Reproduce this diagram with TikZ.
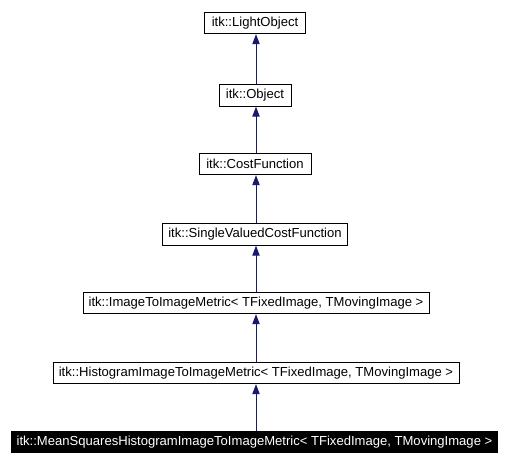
\documentclass[tikz,border=0pt]{standalone}
\usepackage{fontspec}
\setmainfont{Liberation Sans}
\usetikzlibrary{arrows.meta}
\definecolor{edgeblue}{HTML}{191970}
\begin{document}
\begin{tikzpicture}[x=0.75pt,y=-0.75pt,
  cls/.style={draw=black,line width=0.75pt,fill=white,inner sep=0pt,minimum height=16pt,font=\fontsize{9.8}{11}\selectfont},
  cur/.style={cls,fill=black,text=white},
  inh/.style={draw=edgeblue,line width=0.75pt,-{Triangle[length=7.5pt,width=5.5pt,fill=edgeblue]}}]
\useasboundingbox (0,0) rectangle (510,465);
\node[cls,minimum width=76pt] (lo) at (255,23) {itk::LightObject};
\node[cls,minimum width=54pt] (ob) at (255,95.5) {itk::Object};
\node[cls,minimum width=84pt] (cf) at (255,164) {itk::CostFunction};
\node[cls,minimum width=139pt] (sv) at (255,234.5) {itk::SingleValuedCostFunction};
\node[cls,minimum width=259.5pt] (im) at (256,303) {itk::ImageToImageMetric< TFixedImage, TMovingImage >};
\node[cls,minimum width=304.5pt] (hi) at (256,373) {itk::HistogramImageToImageMetric< TFixedImage, TMovingImage >};
\node[cur,minimum width=364pt] (ms) at (254.5,442) {itk::MeanSquaresHistogramImageToImageMetric< TFixedImage, TMovingImage >};
\draw[inh] (ob.north -| 256,0) -- (lo.south -| 256,0);
\draw[inh] (cf.north -| 256,0) -- (ob.south -| 256,0);
\draw[inh] (sv.north -| 256,0) -- (cf.south -| 256,0);
\draw[inh] (im.north -| 256,0) -- (sv.south -| 256,0);
\draw[inh] (hi.north -| 256,0) -- (im.south -| 256,0);
\draw[inh] (ms.north -| 256,0) -- (hi.south -| 256,0);
\end{tikzpicture}
\end{document}
